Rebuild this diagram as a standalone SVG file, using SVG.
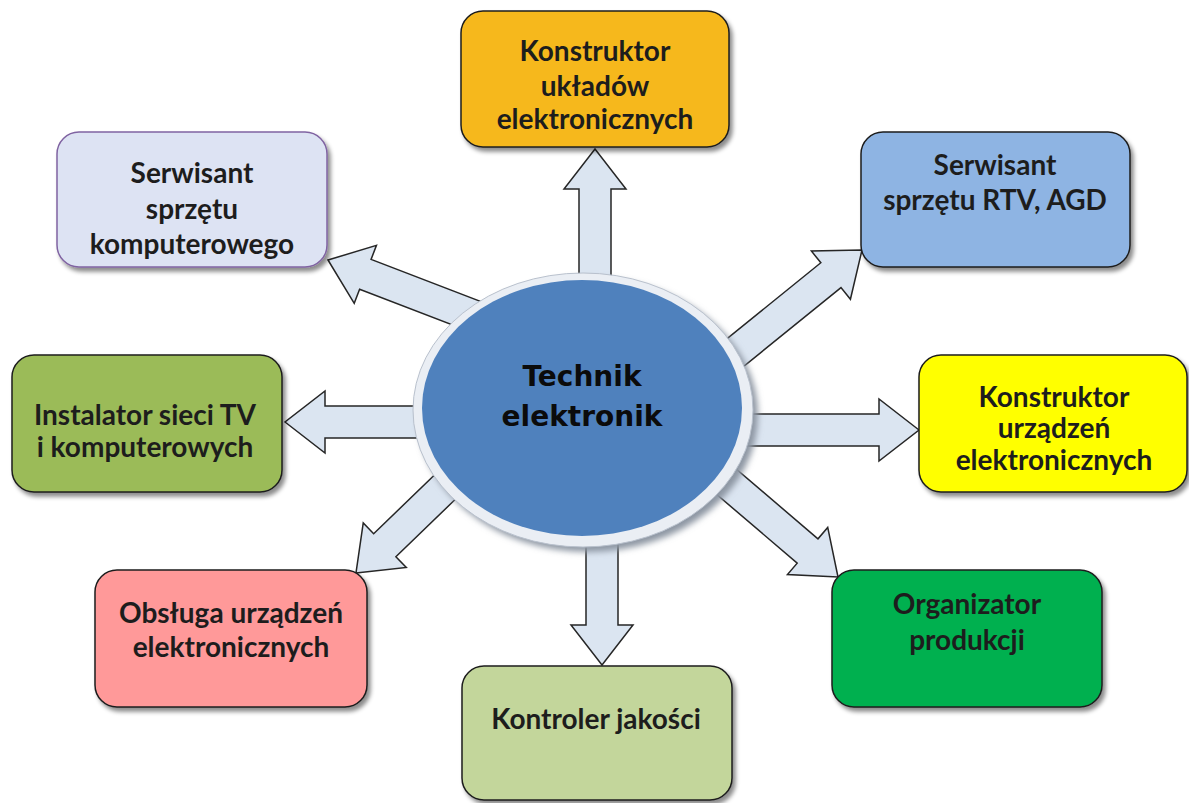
<svg xmlns="http://www.w3.org/2000/svg" xmlns:xlink="http://www.w3.org/1999/xlink" width="1189" height="803" viewBox="0 0 1189 803">
<style>
.box{stroke:#1e1e1e;stroke-width:1.5;filter:url(#sh)}
.bt{font-family:Lato,"Open Sans","Liberation Sans",sans-serif;font-weight:bold;font-size:28px;fill:#1d1d1d;text-anchor:middle}
.ct{font-family:"DejaVu Sans",Verdana,sans-serif;font-weight:bold;font-size:28px;fill:#0b0b0b;text-anchor:middle}
.arr{fill:#dbe5f1;stroke:#262626;stroke-width:1.5;stroke-linejoin:miter}
</style>
<defs>
<filter id="sh" x="-10%" y="-10%" width="125%" height="130%">
<feDropShadow dx="3" dy="4" stdDeviation="2" flood-color="#000" flood-opacity="0.45"/>
</filter>
<filter id="esh" x="-10%" y="-10%" width="125%" height="130%">
<feGaussianBlur stdDeviation="3"/>
</filter>
<path id="ar" class="arr" d="M0,0 L-40,-31 L-40,-16 L-260,-16 L-260,16 L-40,16 L-40,31 Z"/>
</defs>
<rect width="1189" height="803" fill="#ffffff"/>
<g id="connectors">
<use xlink:href="#ar" transform="translate(595,149) rotate(-90)"/>
<use xlink:href="#ar" transform="translate(602,665) rotate(90)"/>
<use xlink:href="#ar" transform="translate(285,422) rotate(180)"/>
<use xlink:href="#ar" transform="translate(919,430)"/>
<use xlink:href="#ar" transform="translate(328,260) rotate(201)"/>
<use xlink:href="#ar" transform="translate(862,250) rotate(-39)"/>
<use xlink:href="#ar" transform="translate(356,573) rotate(136)"/>
<use xlink:href="#ar" transform="translate(838,577) rotate(40.5)"/>
</g>
<g id="center">
<ellipse cx="588" cy="415" rx="170" ry="137" fill="#8d96a3" filter="url(#esh)"/>
<ellipse cx="583" cy="410" rx="170" ry="137" fill="#eaeef4" stroke="#b9c1cd" stroke-width="1"/>
<ellipse cx="582" cy="408" rx="160" ry="128" fill="#4f81bd"/>
<text class="ct" x="582" y="386">Technik</text>
<text class="ct" x="582" y="426">elektronik</text>
</g>
<g id="n1">
<rect class="box" x="461" y="11" width="268" height="136" rx="22" fill="#f6b81b"/>
<text class="bt" x="595" y="61">Konstruktor</text>
<text class="bt" x="595" y="96">układów</text>
<text class="bt" x="595" y="129">elektronicznych</text>
</g>
<g id="n2">
<rect class="box" x="57" y="132" width="270" height="135" rx="22" fill="#dde3f3" style="stroke:#8064a2"/>
<text class="bt" x="192" y="183">Serwisant</text>
<text class="bt" x="192" y="219">sprzętu</text>
<text class="bt" x="192" y="254">komputerowego</text>
</g>
<g id="n3">
<rect class="box" x="861" y="132" width="269" height="135" rx="22" fill="#8eb4e3"/>
<text class="bt" x="995" y="175">Serwisant</text>
<text class="bt" x="995" y="210">sprzętu RTV, AGD</text>
</g>
<g id="n4">
<rect class="box" x="12" y="355" width="270" height="137" rx="22" fill="#9bbb59"/>
<text class="bt" x="145" y="425">Instalator sieci TV</text>
<text class="bt" x="145" y="457">i komputerowych</text>
</g>
<g id="n5">
<rect class="box" x="919" y="355" width="268" height="137" rx="22" fill="#ffff00"/>
<text class="bt" x="1054" y="407">Konstruktor</text>
<text class="bt" x="1054" y="438">urządzeń</text>
<text class="bt" x="1054" y="470">elektronicznych</text>
</g>
<g id="n6">
<rect class="box" x="95" y="570" width="272" height="137" rx="22" fill="#ff9999"/>
<text class="bt" x="231" y="623">Obsługa urządzeń</text>
<text class="bt" x="231" y="657">elektronicznych</text>
</g>
<g id="n7">
<rect class="box" x="462" y="666" width="270" height="134" rx="22" fill="#c3d69b"/>
<text class="bt" x="596" y="729">Kontroler jakości</text>
</g>
<g id="n8">
<rect class="box" x="832" y="570" width="270" height="137" rx="22" fill="#00b050"/>
<text class="bt" x="967" y="614">Organizator</text>
<text class="bt" x="967" y="650">produkcji</text>
</g>
</svg>
